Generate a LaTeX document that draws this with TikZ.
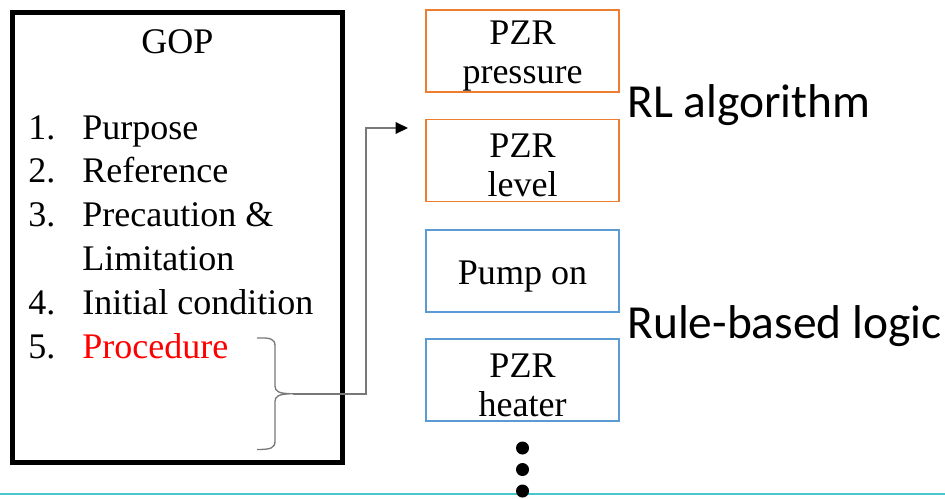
\documentclass[tikz,border=0pt]{standalone}
\usepackage{fontspec}
\setmainfont{Liberation Serif}
\newfontfamily\labelfont{Carlito}
\usetikzlibrary{arrows.meta,positioning}
\definecolor{RLOrange}{RGB}{237, 125, 49}
\definecolor{RuleBlue}{RGB}{91, 155, 213}
\definecolor{LineCyan}{RGB}{72, 200, 204}
\definecolor{LinkGray}{RGB}{120, 120, 120}
\newcommand{\boxstrut}{\rule{0pt}{19.5pt}}

\begin{document}
\begin{tikzpicture}[x=0.02cm, y=-0.02cm,
    listtext/.style={anchor=base west, inner sep=0pt, font=\fontsize{20.5}{24}\selectfont},
    sidelabel/.style={anchor=base west, inner sep=0pt, font=\labelfont\fontsize{27}{30}\selectfont},
    signalbox/.style={draw=#1, line width=1.1pt, minimum width=3.86cm, minimum height=1.64cm,
        inner sep=0pt, align=center, text=black, font=\fontsize{20.5}{22.2}\selectfont}]
    \useasboundingbox (0,0) rectangle (945,498);
    % GOP document
    \node[draw, line width=2.85pt, minimum width=6.6cm, minimum height=9cm, inner sep=0pt] (gop) at (177.5,237.5) {};
    \node[anchor=base, inner sep=0pt, font=\fontsize{20.5}{24}\selectfont] (title) at (177.5,53) {GOP};
    \node[listtext] (n1) at (28,139) {1.};
    \node[listtext] (t1) at (82,139) {Purpose};
    \node[listtext] (n2) at (28,182.8) {2.};
    \node[listtext] (t2) at (82,182.8) {Reference};
    \node[listtext] (n3) at (28,226.6) {3.};
    \node[listtext] (t3) at (82,226.6) {Precaution \&};
    \node[listtext] (t3b) at (82,270.4) {Limitation};
    \node[listtext] (n4) at (28,314.2) {4.};
    \node[listtext] (t4) at (82,314.2) {Initial condition};
    \node[listtext] (n5) at (28,358) {5.};
    \node[listtext, red] (t5) at (82,358) {Procedure};
    % brace and link
    \coordinate (bracetop) at (257,338);
    \coordinate (bracebot) at (257,449.5);
    \coordinate (bracetip) at (293,393.75);
    \coordinate (bend) at (366,128);
    \coordinate (arrowend) at (408,128);
    \draw[LinkGray, line width=0.75pt]
        (bracetop) .. controls (271,337.5) and (275,339) .. (275,346) -- (275,386)
        .. controls (275,391) and (278,393.75) .. (bracetip)
        .. controls (278,393.75) and (275,396.5) .. (275,401.5) -- (275,441)
        .. controls (275,448) and (271,449.5) .. (bracebot);
    \draw[LinkGray, line width=0.85pt, -{Triangle[length=7pt, width=6.5pt, color=black]}]
        (bracetip) -| (bend) -- (arrowend);
    % signal boxes
    \node[signalbox=RLOrange] (press) at (522.5,51) {\boxstrut PZR\\pressure};
    \node[signalbox=RLOrange] (level) at (522.5,160.5) {\boxstrut PZR\\level};
    \node[signalbox=RuleBlue] (pump) at (522.5,271) {\boxstrut Pump on};
    \node[signalbox=RuleBlue] (heater) at (522.5,380) {\boxstrut PZR\\heater};
    \node[sidelabel] (rl) at (627,117) {RL algorithm};
    \node[sidelabel] (rule) at (627,338) {Rule-based logic};
    % bottom
    \draw[LineCyan, line width=0.9pt] (0,494) -- (945,494);
    \foreach \y in {448,469.5,491} {
        \fill (522.5,\y) circle (0.13cm);
    }
\end{tikzpicture}
\end{document}
